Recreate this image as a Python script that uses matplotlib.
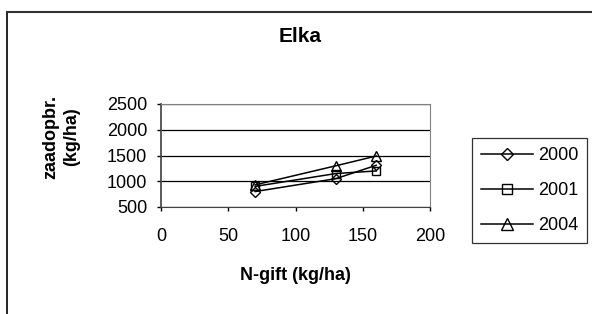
import matplotlib
matplotlib.use("Agg")
import matplotlib.pyplot as plt
from matplotlib.lines import Line2D

plt.rcParams["font.family"] = ["Liberation Sans", "DejaVu Sans"]

n_gift = [70, 130, 160]
y2000 = [800, 1050, 1310]
y2001 = [900, 1150, 1200]
y2004 = [930, 1300, 1490]
years = ["2000", "2001", "2004"]

fig = plt.figure(figsize=(5.92, 3.14), dpi=100)
ax = fig.add_axes([161 / 592, 1 - 207 / 314, 269 / 592, 103 / 314])

styles = [("D", 5.5), ("s", 5.5), ("^", 7)]
for vals, (m, ms), name in zip([y2000, y2001, y2004], styles, years):
    ax.plot(n_gift, vals, color="black", lw=1.1, marker=m, ms=ms,
            mfc="none", mec="black", mew=1.0, label=name)

ax.set_xlim(0, 200)
ax.set_ylim(500, 2500)
ax.set_xticks([0, 50, 100, 150, 200])
ax.set_yticks([500, 1000, 1500, 2000, 2500])
ax.yaxis.grid(True, color="black", lw=0.9)
ax.set_axisbelow(True)
ax.tick_params(labelsize=13, length=3, width=1, direction="out")
ax.tick_params(axis="y", pad=7)
ax.tick_params(axis="x", pad=12)
for s in ["top", "right"]:
    ax.spines[s].set_color("#808080")
ax.spines["left"].set_color("#404040")
ax.spines["bottom"].set_color("#404040")
ax.spines["left"].set_linewidth(1.2)

fig.text(300 / 592, 1 - 36 / 314, "Elka", ha="center", va="center",
         fontsize=15, fontweight="bold")
fig.text(295 / 592, 1 - 276 / 314, "N-gift (kg/ha)", ha="center", va="center",
         fontsize=13, fontweight="bold")
fig.text(61 / 592, 1 - 137 / 314, "zaadopbr.\n(kg/ha)", ha="center", va="center",
         rotation=90, fontsize=13, fontweight="bold", linespacing=1.3)

handles = [Line2D([], [], color="black", lw=1.1, marker=m, ms=ms + 1, mfc="none",
                  mec="black", mew=1.0) for m, ms in styles]
leg = fig.legend(handles, years, loc="upper left",
                 bbox_to_anchor=(472 / 592, 1 - 138 / 314),
                 fontsize=13, frameon=True, fancybox=False,
                 handlelength=2.9, labelspacing=1.0, borderpad=0.5,
                 handletextpad=0.25, borderaxespad=0)
leg.get_frame().set_edgecolor("black")
leg.get_frame().set_linewidth(0.9)

# chart border (left and top)
fig.add_artist(Line2D([7 / 592, 7 / 592], [0, 1 - 12 / 314], color="black", lw=1.2))
fig.add_artist(Line2D([7 / 592, 1], [1 - 12 / 314, 1 - 12 / 314], color="#333333", lw=1.5))

fig.savefig("out.png", dpi=100)
